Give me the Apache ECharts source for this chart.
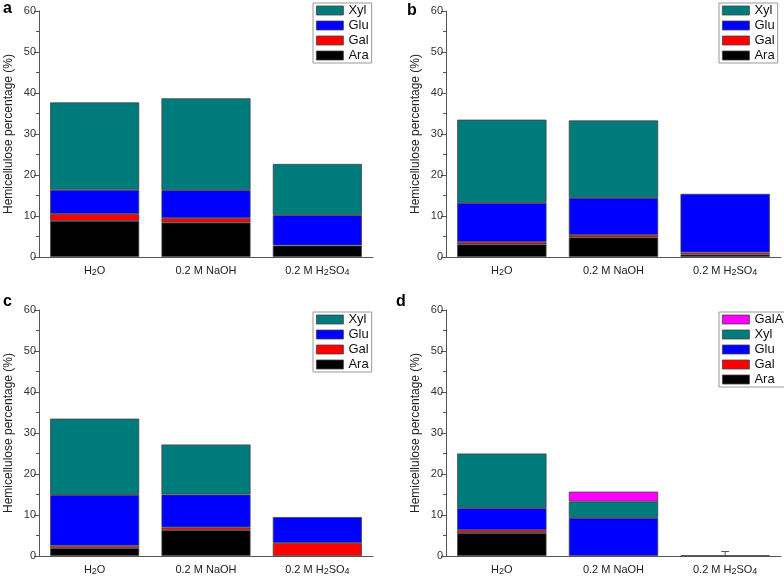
<!DOCTYPE html>
<html>
<head>
<meta charset="utf-8">
<script src="https://cdn.jsdelivr.net/npm/echarts@6/dist/echarts.min.js"></script>
<style>
html,body{margin:0;padding:0;background:#fff;}
#chart{width:784px;height:582px;}
</style>
</head>
<body>
<div id="chart"></div>
<script>
// ---- data ----
const categories = ['H2O', '0.2 M NaOH', '0.2 M H2SO4'];
const categoryLabels = ['H{s|2}O', '0.2 M NaOH', '0.2 M H{s|2}SO{s|4}'];
const yMin = 0, yMax = 60, yInterval = 10;
const yAxisTitle = 'Hemicellulose percentage (%)';
const panelLetters = ['a', 'b', 'c', 'd'];

// panel a
const aAra = [8.8, 8.4, 2.8];
const aGal = [1.7, 1.1, null];
const aGlu = [5.9, 6.8, 7.4];
const aXyl = [21.3, 22.4, 12.5];
// panel b
const bAra = [3.1, 4.8, 0.6];
const bGal = [0.6, 0.6, 0.5];
const bGlu = [9.5, 9.0, 14.3];
const bXyl = [20.3, 18.9, null];
// panel c
const cAra = [1.9, 6.3, null];
const cGal = [0.6, 0.7, 3.2];
const cGlu = [12.4, 8.0, 6.3];
const cXyl = [18.6, 12.2, null];
// panel d
const dAra = [5.6, null, 0.15];
const dGal = [0.7, null, null];
const dGlu = [5.4, 9.3, null];
const dXyl = [13.3, 4.0, null];
const dGalA = [null, 2.4, null];
const dErrLow = [null, null, 0];
const dErrHigh = [null, null, 1.1];

// ---- styling ----
const FONT = 'Arial, "Liberation Sans", sans-serif';
const colors = {Ara: '#000000', Gal: '#ff0000', Glu: '#0000ff', Xyl: '#007b7b', GalA: '#ff00ff'};
const axisColor = '#555';

const grids = [
  {left: 39, right: 411, top: 11, bottom: 325},
  {left: 446, right: 3, top: 11, bottom: 325},
  {left: 39, right: 411, top: 310, bottom: 26},
  {left: 446, right: 3, top: 310, bottom: 26}
];
const legendPos = [
  {left: 313, top: 3},
  {left: 719, top: 3},
  {left: 313, top: 312},
  {left: 719, top: 312}
];
const letterPos = [[3, 17], [407, 19], [3, 310], [396, 310]];

const panels = [
  {Ara: aAra, Gal: aGal, Glu: aGlu, Xyl: aXyl},
  {Ara: bAra, Gal: bGal, Glu: bGlu, Xyl: bXyl},
  {Ara: cAra, Gal: cGal, Glu: cGlu, Xyl: cXyl},
  {Ara: dAra, Gal: dGal, Glu: dGlu, Xyl: dXyl, GalA: dGalA}
];

const xAxes = [], yAxes = [], series = [], legends = [], graphics = [];

grids.forEach((g, i) => {
  // main category axis: ticks at category centres
  xAxes.push({
    type: 'category', gridIndex: i, data: categories,
    axisLine: {lineStyle: {color: axisColor, width: 1}},
    axisTick: {alignWithLabel: true, interval: 0, length: 4, lineStyle: {color: axisColor}},
    axisLabel: {
      interval: 0, hideOverlap: false,
      fontFamily: FONT, fontSize: 11, color: '#222', margin: 8,
      formatter: (v, idx) => categoryLabels[idx],
      rich: {s: {fontFamily: FONT, fontSize: 9, lineHeight: 9, verticalAlign: 'bottom', padding: [0, 0, -1, 0], color: '#222'}}
    },
    splitLine: {show: false}
  });
  yAxes.push({
    type: 'value', gridIndex: i, min: yMin, max: yMax, interval: yInterval,
    name: yAxisTitle, nameLocation: 'middle', nameGap: 24,
    nameTextStyle: {fontFamily: FONT, fontSize: 12, color: '#222'},
    axisLine: {show: true, lineStyle: {color: axisColor, width: 1}},
    axisTick: {show: true, length: 5, lineStyle: {color: axisColor}},
    minorTick: {show: true, splitNumber: 2, length: 3, lineStyle: {color: axisColor}},
    axisLabel: {fontFamily: FONT, fontSize: 11, color: '#333', margin: 3},
    splitLine: {show: false}
  });
});
// secondary category axes: ticks at category boundaries
grids.forEach((g, i) => {
  xAxes.push({
    type: 'category', gridIndex: i, data: categories, position: 'bottom',
    axisLine: {show: false},
    axisTick: {alignWithLabel: false, interval: 0, length: 3, lineStyle: {color: axisColor}},
    axisLabel: {show: false},
    splitLine: {show: false}
  });
});

panels.forEach((p, i) => {
  const order = ['Ara', 'Gal', 'Glu', 'Xyl', 'GalA'].filter(k => p[k]);
  order.forEach(k => {
    series.push({
      type: 'bar', name: k, stack: 'p' + i, xAxisIndex: i, yAxisIndex: i,
      data: p[k], barWidth: '80%',
      itemStyle: {color: colors[k], borderColor: '#444', borderWidth: 0.8},
      emphasis: {disabled: true}, animation: false
    });
  });
  const legendData = order.slice().reverse();
  legends.push({
    orient: 'vertical', left: legendPos[i].left, top: legendPos[i].top,
    data: legendData, icon: 'rect', itemWidth: 27, itemHeight: 9, itemGap: 2,
    padding: [1, 3, 1, 3], borderColor: '#999', borderWidth: 1,
    textStyle: {fontFamily: FONT, fontSize: 13, color: '#111', lineHeight: 13},
    selectedMode: false, itemStyle: {borderColor: '#444', borderWidth: 0.8}
  });
  graphics.push({
    type: 'text', left: letterPos[i][0], top: letterPos[i][1] - 16,
    style: {text: panelLetters[i], font: 'bold 16px ' + FONT, fill: '#000'}
  });
});

// error bar in panel d
series.push({
  type: 'custom', xAxisIndex: 3, yAxisIndex: 3, animation: false,
  data: dErrHigh.map((h, idx) => h == null ? null : [idx, dErrLow[idx], h]).filter(d => d),
  renderItem: (params, api) => {
    const x = api.value(0);
    const lo = api.coord([x, api.value(1)]);
    const hi = api.coord([x, api.value(2)]);
    const cap = 4;
    return {
      type: 'group',
      children: [
        {type: 'line', shape: {x1: lo[0], y1: lo[1], x2: hi[0], y2: hi[1]}, style: {stroke: '#555', lineWidth: 1}},
        {type: 'line', shape: {x1: hi[0] - cap, y1: hi[1], x2: hi[0] + cap, y2: hi[1]}, style: {stroke: '#555', lineWidth: 1}}
      ]
    };
  }
});

const chart = echarts.init(document.getElementById('chart'), null, {renderer: 'canvas'});
chart.setOption({
  backgroundColor: '#fff',
  animation: false,
  grid: grids,
  xAxis: xAxes,
  yAxis: yAxes,
  legend: legends,
  series: series,
  graphic: graphics
});
</script>
</body>
</html>
